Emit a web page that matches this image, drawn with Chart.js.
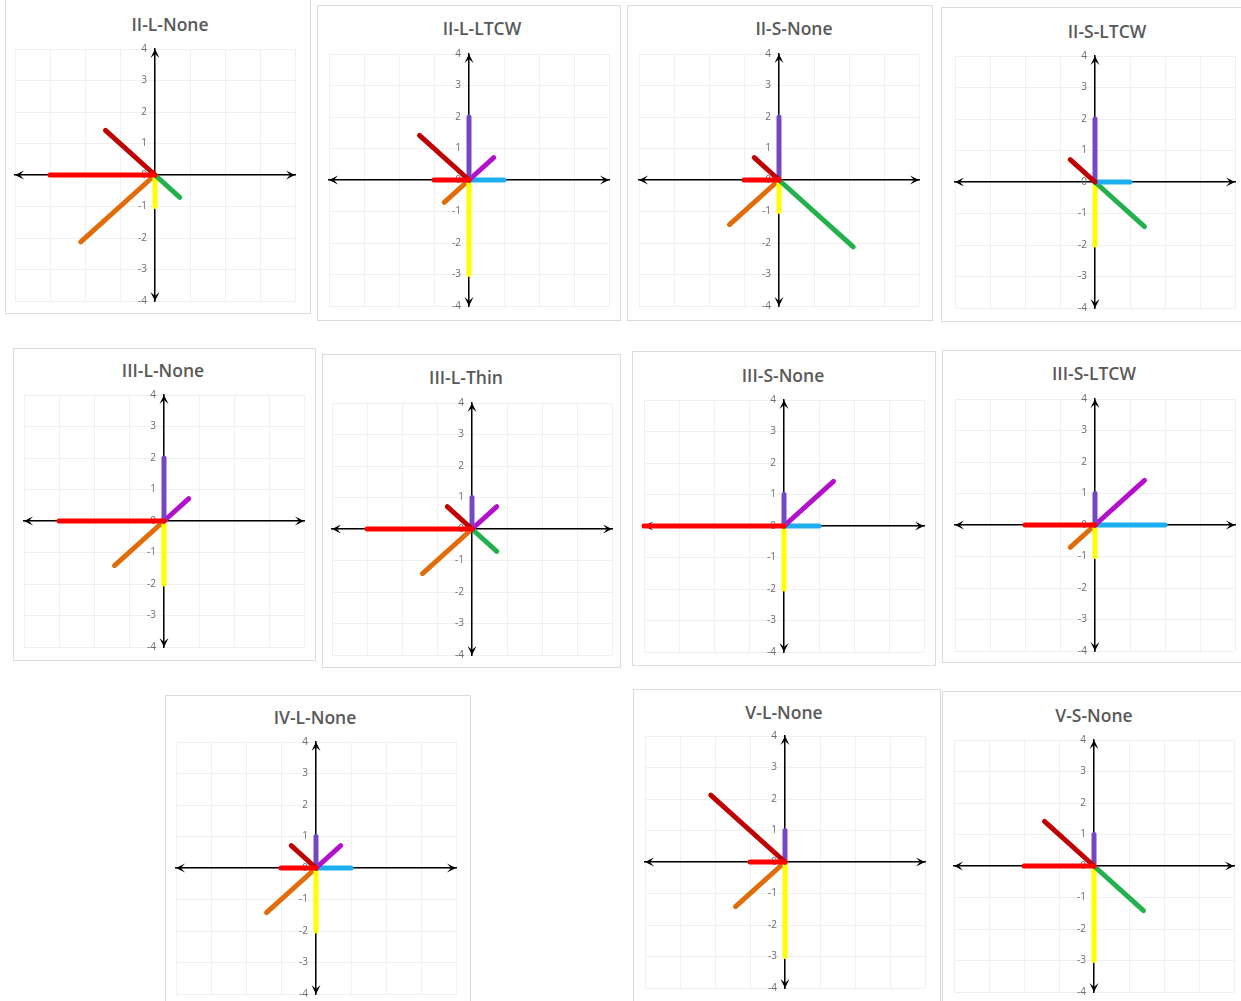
<!DOCTYPE html>
<html lang="en">
<head>
<meta charset="UTF-8" />
<title>Direction vectors</title>
<script src="https://cdn.jsdelivr.net/npm/chart.js"></script>
<style>
  body { margin: 0; background: #fff; width: 1241px; height: 1001px; position: relative; overflow: hidden; font-family: 'Open Sans', Lato, sans-serif; }
  .panel { position: absolute; border: 1px solid #dcdcdc; box-sizing: border-box; background: #fff; }
  .title { position: absolute; transform: translate(-50%, -50%); font-size: 17.5px; font-weight: 600; color: #595959; white-space: nowrap; }
  canvas.plot { position: absolute; }
</style>
</head>
<body>
<script>
  // length of the vector in each direction, order: W, NW, N, NE, E, SE, S, SW
  const directions = ['W', 'NW', 'N', 'NE', 'E', 'SE', 'S', 'SW'];
  const II_L_None  = [3, 2, 0, 0, 0, 1, 1, 3];
  const II_L_LTCW  = [1, 2, 2, 1, 1, 0, 3, 1];
  const II_S_None  = [1, 1, 2, 0, 0, 3, 1, 2];
  const II_S_LTCW  = [0, 1, 2, 0, 1, 2, 2, 0];
  const III_L_None = [3, 0, 2, 1, 0, 0, 2, 2];
  const III_L_Thin = [3, 1, 1, 1, 0, 1, 0, 2];
  const III_S_None = [4, 0, 1, 2, 1, 0, 2, 0];
  const III_S_LTCW = [2, 0, 1, 2, 2, 0, 1, 1];
  const IV_L_None  = [1, 1, 1, 1, 1, 0, 2, 2];
  const V_L_None   = [1, 3, 1, 0, 0, 0, 3, 2];
  const V_S_None   = [2, 2, 1, 0, 0, 2, 3, 0];

  const titles = ['II-L-None', 'II-L-LTCW', 'II-S-None', 'II-S-LTCW',
    'III-L-None', 'III-L-Thin', 'III-S-None', 'III-S-LTCW',
    'IV-L-None', 'V-L-None', 'V-S-None'];
  const panelData = [II_L_None, II_L_LTCW, II_S_None, II_S_LTCW,
    III_L_None, III_L_Thin, III_S_None, III_S_LTCW,
    IV_L_None, V_L_None, V_S_None];
  const axisMin = -4, axisMax = 4;

  const dirColors = ['#FF0000', '#C00000', '#7448C2', '#B410CC', '#1CAEEE', '#22B14C', '#FFFF00', '#E36C0A'];
  const unit = {
    W: [-1, 0], NW: [-Math.SQRT1_2, Math.SQRT1_2], N: [0, 1], NE: [Math.SQRT1_2, Math.SQRT1_2],
    E: [1, 0], SE: [Math.SQRT1_2, -Math.SQRT1_2], S: [0, -1], SW: [-Math.SQRT1_2, -Math.SQRT1_2]
  };

  // panel frame [left, top, width, height], axis origin, title centre
  const frames = [
    [5, -1, 306, 315], [317, 5, 304, 316], [627, 5, 306, 316], [941, 7, 302, 315],
    [13, 348, 303, 313], [322, 354, 299, 314], [632, 351, 304, 315], [942, 350, 301, 313],
    [165, 695, 306, 310], [633, 689, 308, 315], [942, 691, 301, 313]
  ];
  const origins = [
    [155, 175], [469, 180], [779, 180], [1095, 182],
    [164, 521], [472, 529], [784, 526], [1095, 525],
    [316, 868], [785, 862], [1094, 866]
  ];
  const heads = [
    [170, 24], [482, 28], [794, 28], [1107, 31],
    [163, 370], [466, 377], [783, 375], [1094, 373],
    [315, 717], [784, 712], [1094, 715]
  ];
  const halfW = 140, halfH = 126, pad = 12;

  // arrowheads on both axes and the y tick labels beside the centred axis
  const axisDecor = {
    id: 'axisDecor',
    beforeDatasetsDraw(chart) {
      const { ctx, scales: { x, y } } = chart;
      const x0 = x.getPixelForValue(0), y0 = y.getPixelForValue(0);
      const L = 9, W = 4.5;
      const head = (tx, ty, dx, dy) => {
        const px = -dy, py = dx;
        ctx.beginPath();
        ctx.moveTo(tx, ty);
        ctx.lineTo(tx - L * dx + W * px, ty - L * dy + W * py);
        ctx.lineTo(tx - 0.55 * L * dx, ty - 0.55 * L * dy);
        ctx.lineTo(tx - L * dx - W * px, ty - L * dy - W * py);
        ctx.closePath();
        ctx.fill();
      };
      ctx.save();
      ctx.fillStyle = '#000';
      head(x.getPixelForValue(axisMin), y0, -1, 0);
      head(x.getPixelForValue(axisMax), y0, 1, 0);
      head(x0, y.getPixelForValue(axisMax), 0, -1);
      head(x0, y.getPixelForValue(axisMin), 0, 1);

      ctx.fillStyle = '#6b6b6b';
      ctx.font = '10px "Open Sans", Lato, sans-serif';
      ctx.textAlign = 'right';
      ctx.textBaseline = 'middle';
      y.ticks.forEach(t => {
        ctx.fillText(String(t.value), x0 - 8, y.getPixelForValue(t.value));
      });
      ctx.restore();
    }
  };

  titles.forEach((title, i) => {
    const [fl, ft, fw, fh] = frames[i];
    const frame = document.createElement('div');
    frame.className = 'panel';
    Object.assign(frame.style, { left: fl + 'px', top: ft + 'px', width: fw + 'px', height: fh + 'px' });
    document.body.appendChild(frame);

    const [ox, oy] = origins[i];
    const canvas = document.createElement('canvas');
    canvas.className = 'plot';
    const cw = 2 * (halfW + pad), ch = 2 * (halfH + pad);
    canvas.width = cw; canvas.height = ch;
    Object.assign(canvas.style, { left: (ox - halfW - pad) + 'px', top: (oy - halfH - pad) + 'px', width: cw + 'px', height: ch + 'px' });
    document.body.appendChild(canvas);

    const label = document.createElement('div');
    label.className = 'title';
    label.textContent = title;
    label.style.left = heads[i][0] + 'px';
    label.style.top = heads[i][1] + 'px';
    document.body.appendChild(label);

    const datasets = [];
    directions.forEach((d, k) => {
      const len = panelData[i][k];
      if (!len) return;
      datasets.push({
        label: d,
        data: [{ x: 0, y: 0 }, { x: len * unit[d][0], y: len * unit[d][1] }],
        showLine: true,
        borderColor: dirColors[k],
        backgroundColor: dirColors[k],
        borderWidth: 5,
        borderCapStyle: 'round',
        pointRadius: 0,
        clip: false
      });
    });

    new Chart(canvas, {
      type: 'scatter',
      data: { datasets },
      options: {
        responsive: false,
        animation: false,
        layout: { padding: pad },
        plugins: { legend: { display: false }, tooltip: { enabled: false } },
        scales: {
          x: {
            min: axisMin, max: axisMax,
            position: { y: 0 },
            ticks: { display: false, stepSize: 1 },
            grid: { color: '#f0f0f0', drawTicks: false },
            border: { display: true, color: '#000', width: 1.5 }
          },
          y: {
            min: axisMin, max: axisMax,
            position: { x: 0 },
            ticks: { display: false, stepSize: 1 },
            grid: { color: '#f0f0f0', drawTicks: false },
            border: { display: true, color: '#000', width: 1.5 }
          }
        }
      },
      plugins: [axisDecor]
    });
  });
</script>
</body>
</html>
